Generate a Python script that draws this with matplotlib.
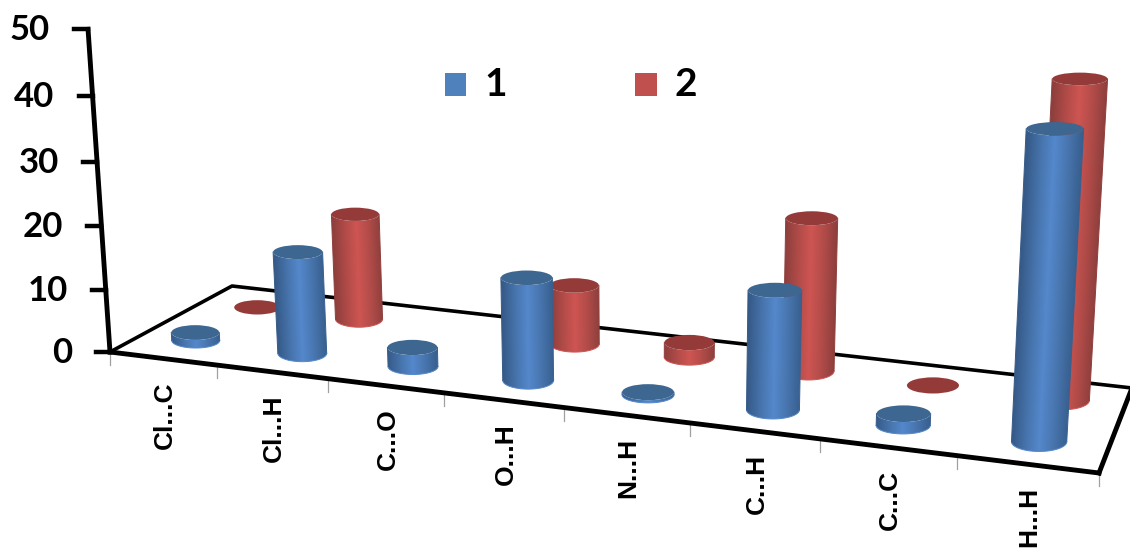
import numpy as np
import matplotlib
matplotlib.use('Agg')
import matplotlib.pyplot as plt
from matplotlib.colors import LinearSegmentedColormap
from matplotlib.patches import Ellipse, Rectangle
from matplotlib.path import Path
from matplotlib.transforms import Affine2D

# Data (nan = no cylinder drawn)
categories = ['Cl...C', 'Cl...H', 'C...O', 'O...H', 'N...H', 'C...H', 'C...C', 'H...H']
series_1 = [1.3, 16.0, 3.0, 15.6, 0.4, 17.4, 1.7, 42.6]
series_2 = [0.0, 17.2, np.nan, 9.3, 2.3, 23.0, 0.0, 45.4]
y_ticks = [0, 10, 20, 30, 40, 50]
series_names = ['1', '2']

# Pixel geometry of the fake 3D view
FL, FR = np.array([110., 352.]), np.array([1099., 473.])
BL, BR = np.array([232., 286.]), np.array([1132., 388.])
VP = np.array([646., 8230.])  # vertical lines meet far below the chart
persp_x = -0.15
persp_y = 0.08
unit_px = 6.2
radius_px = 24.25

blue_cmap = LinearSegmentedColormap.from_list('b', ['#365A88', '#4673AB', '#5488CC', '#4875AE', '#38608F'])
red_cmap = LinearSegmentedColormap.from_list('r', ['#8E3F3D', '#B04B48', '#CE5552', '#B24C49', '#8E3F3D'])
blue_top = '#3D6691'
red_top = '#943B39'

fig = plt.figure(figsize=(11.3, 5.49), dpi=100)
ax = fig.add_axes([0, 0, 1, 1])
ax.set_xlim(0, 1130)
ax.set_ylim(549, 0)
ax.axis('off')


def edge_point(p0, p1, u):
    t = u / len(categories)
    return (p0 + t * (p1 * (1 + persp_x) - p0)) / (1 + persp_x * t)


def floor_point(u, v):
    front = edge_point(FL, FR, u)
    back = edge_point(BL, BR, u)
    return front + (back - front) * v


def depth_scale(u, v):
    return 1 / ((1 + persp_x * u / len(categories)) * (1 + persp_y * v))


def lift(base, scale, value):
    # returns raised centre and how much bigger things get up there
    k = unit_px * scale / (VP[1] - base[1])
    m = 1 / (1 - k * value)
    return VP + (base - VP) * m, m


def draw_cylinder(u, v, value, cmap, top_color, z):
    if np.isnan(value):
        return
    base = floor_point(u, v)
    scale = depth_scale(u, v)
    rx = radius_px * scale
    top, m = lift(base, scale, value)
    rx_top = rx * m
    ry_top = rx_top * (0.31 - 0.0018 * value)
    ry_base = rx * (0.31 + min(value, 20) * 0.002)
    if value > 0:
        angles = np.linspace(np.pi, 0, 61)
        low_x = base[0] + rx * np.cos(angles)
        low_y = base[1] + ry_base * np.sin(angles)
        high_x = top[0] + rx_top * np.cos(angles)
        high_y = top[1] + ry_top * np.sin(angles)
        outline = np.column_stack([np.r_[low_x, high_x[::-1]], np.r_[low_y, high_y[::-1]]])

        # horizontal gradient, sheared to follow the lean, clipped to the body
        grad = np.clip(np.linspace(-0.1, 1.1, 300), 0, 1).reshape(1, -1)
        lean = (top[0] - base[0]) / (base[1] - top[1])
        im = ax.imshow(grad, cmap=cmap, vmin=0, vmax=1, aspect='auto', interpolation='bilinear',
                       extent=(-0.1, 1.1, -40, base[1] - top[1] + 40), zorder=z)
        im.set_transform(Affine2D(np.array([[2 * rx, lean, base[0] - rx],
                                            [0, -1, base[1]],
                                            [0, 0, 1]])) + ax.transData)
        im.set_clip_path(Path(outline), ax.transData)
        # thin outline hides the jagged clip edge
        ax.plot(low_x, low_y, color=cmap(0.5), lw=0.7, zorder=z + 0.2)
        ax.plot([low_x[0], high_x[0]], [low_y[0], high_y[0]], color=cmap(0.0), lw=0.7, zorder=z + 0.2)
        ax.plot([low_x[-1], high_x[-1]], [low_y[-1], high_y[-1]], color=cmap(1.0), lw=0.7, zorder=z + 0.2)
    ax.add_patch(Ellipse(top, 2 * rx_top, 2 * ry_top, facecolor=top_color,
                         edgecolor='none', zorder=z + 0.5))


# Floor outline
line_kw = dict(color='black', solid_capstyle='projecting', zorder=2)
ax.plot([FL[0], FR[0]], [FL[1], FR[1]], lw=3.5, **line_kw)
ax.plot([FL[0], BL[0], BR[0]], [FL[1], BL[1], BR[1]], lw=2.6, color='black', zorder=2)
ax.plot([FR[0], BR[0]], [FR[1], BR[1]], lw=3.5, **line_kw)

# Value axis
y_top, _ = lift(FL, 1.0, y_ticks[-1])
ax.plot([FL[0], y_top[0]], [FL[1], y_top[1]], lw=3.5, **line_kw)
for tick in y_ticks:
    p, _ = lift(FL, 1.0, tick)
    ax.plot([p[0] - 14, p[0]], [p[1], p[1]], lw=3.2, color='black', zorder=2)
    ax.text(p[0] - 38, p[1] + 1, str(tick), ha='right', va='center', family='Lato',
            weight='bold', fontsize=25, color='black')

# Category ticks and labels
for i in range(len(categories) + 1):
    p = edge_point(FL, FR, i)
    ax.plot([p[0], p[0]], [p[1], p[1] + 13], lw=0.9, color='#a0a0a0', zorder=1)
for i, name in enumerate(categories):
    p = edge_point(FL, FR, i + 0.5)
    ax.text(p[0] + 2, p[1] + 23, name, rotation=90, ha='center', va='top',
            family='Liberation Sans', weight='bold', fontsize=19, color='black')

# Back row first, then front row so the blue ones cover the red
z = 3
for i, val in enumerate(series_2):
    draw_cylinder(i + 0.54, 0.77, val, red_cmap, red_top, z)
    z += 1
for i, val in enumerate(series_1):
    draw_cylinder(i + 0.51, 0.27, val, blue_cmap, blue_top, z)
    z += 1

# Legend
ax.add_patch(Rectangle((445, 73), 21, 23, facecolor='#4F81BD', edgecolor='none'))
ax.text(484, 84, series_names[0], ha='left', va='center', family='Lato', weight='bold', fontsize=28)
ax.add_patch(Rectangle((635, 73), 22, 23, facecolor='#C0504D', edgecolor='none'))
ax.text(675, 84, series_names[1], ha='left', va='center', family='Lato', weight='bold', fontsize=28)

fig.savefig('out.png', dpi=100)
